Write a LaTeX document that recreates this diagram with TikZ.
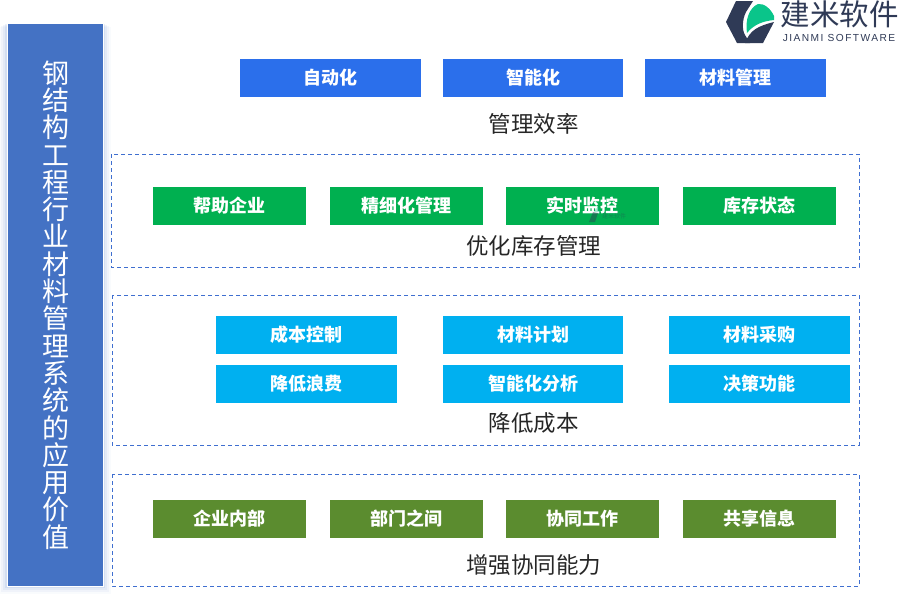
\documentclass[tikz,border=0pt]{standalone}
\usepackage{fontspec}
\setmainfont{Noto Sans CJK SC}
\newfontfamily\latinlogo[LetterSpace=14]{Liberation Sans}
\definecolor{panelblue}{HTML}{4472C4}
\definecolor{dashblue}{HTML}{3F6FD0}
\definecolor{topblue}{HTML}{2B6FEB}
\definecolor{grn}{HTML}{00B050}
\definecolor{cyn}{HTML}{00B0F0}
\definecolor{olv}{HTML}{5B8C2F}
\definecolor{logodark}{HTML}{2F3A56}
\definecolor{logogreen}{HTML}{0AC58A}
\tikzset{
  btn/.style={anchor=north west,inner sep=0pt,outer sep=0pt,text=white,align=center,
    font=\fontsize{18}{20}\selectfont\bfseries},
  topbtn/.style={btn,fill=topblue,minimum width=181pt,minimum height=38pt},
  grnbtn/.style={btn,fill=grn,minimum width=153pt,minimum height=38pt},
  cynbtn/.style={btn,fill=cyn,minimum width=181pt,minimum height=37.5pt},
  olvbtn/.style={btn,fill=olv,minimum width=153pt,minimum height=38pt},
  frameb/.style={draw=dashblue,line width=1pt,dash pattern=on 4pt off 3pt},
  heading/.style={text=black!85,inner sep=0pt,font=\fontsize{22.5}{24}\selectfont},
}
\begin{document}
\begin{tikzpicture}[x=1pt,y=-1pt]
\useasboundingbox (0,0) rectangle (900,600);
% panel shadow
\foreach \d/\o in {8/0.03,6/0.05,4/0.07,2/0.10}{
  \fill[panelblue,opacity=\o] (7-\d,23+\d*0.5) rectangle (103+\d,586+\d);
}
\node[anchor=north west,fill=panelblue,draw=white,line width=0.8pt,minimum width=96pt,minimum height=563pt,inner sep=0pt,outer sep=0pt] (panel) at (7,23) {};
\node[text=white,align=center,inner sep=0pt,font=\fontsize{27}{27.3}\selectfont] (paneltext) at (56,305)
 {钢\\结\\构\\工\\程\\行\\业\\材\\料\\管\\理\\系\\统\\的\\应\\用\\价\\值};
% frames
\draw[frameb] (111,154) rectangle (859,267);
\draw[frameb] (112,295) rectangle (859,445);
\draw[frameb] (112,474) rectangle (859,586);
% top row
\node[topbtn] (a1) at (240,59) {自动化};
\node[topbtn,minimum width=180pt] (a2) at (443,59) {智能化};
\node[topbtn] (a3) at (645,59) {材料管理};
\node[heading] (h1) at (533.5,124) {管理效率};
% green
\node[grnbtn] (b1) at (153,187) {帮助企业};
\node[grnbtn] (b2) at (330,187) {精细化管理};
\node[grnbtn] (b3) at (506,187) {实时监控};
\node[grnbtn] (b4) at (683,187) {库存状态};
\node[heading] (h2) at (533.5,246) {优化库存管理};
% cyan
\node[cynbtn] (c1) at (216,316) {成本控制};
\node[cynbtn,minimum width=180pt] (c2) at (443,316) {材料计划};
\node[cynbtn] (c3) at (669,316) {材料采购};
\node[cynbtn] (c4) at (216,365) {降低浪费};
\node[cynbtn,minimum width=180pt] (c5) at (443,365) {智能化分析};
\node[cynbtn] (c6) at (669,365) {决策功能};
\node[heading] (h3) at (533.5,423) {降低成本};
% olive
\node[olvbtn] (d1) at (153,500) {企业内部};
\node[olvbtn] (d2) at (330,500) {部门之间};
\node[olvbtn] (d3) at (506,500) {协同工作};
\node[olvbtn] (d4) at (683,500) {共享信息};
\node[heading] (h4) at (533.5,565) {增强协同能力};
% logo
\fill[logodark] (736,1) -- (753,1) -- (746,12) .. controls (742,20) and (742,30) .. (745,35) -- (750,43) -- (737,43) -- (726,22) -- cycle;
\fill[logodark] (745,43) .. controls (750,30) and (758,26) .. (774,22) -- (763,43) -- cycle;
\fill[logogreen] (747,33) .. controls (745,20) and (749,8) .. (758,4) .. controls (764,3) and (771,9) .. (774,16) -- (774,20) .. controls (764,21) and (754,24) .. (747,33) -- cycle;
\node[inner sep=0pt,text=logodark,font=\fontsize{29.5}{30}\selectfont] (logoname) at (839.5,14) {建米软件};
\node[inner sep=0pt,text=logodark,font=\latinlogo\fontsize{10.2}{12}\selectfont] (logosub) at (839,38) {JIANMI SOFTWARE};
% watermark
\fill[logodark,opacity=0.45] (589,222) -- (593,212) -- (598,213) -- (595,222) -- cycle;
\fill[logogreen,opacity=0.35] (594,212) -- (598,206) -- (600,212) -- cycle;
\node[inner sep=0pt,text=logodark,opacity=0.35,font=\fontsize{6}{7}\selectfont] (wm) at (614,216) {建米软件};
\end{tikzpicture}
\end{document}
